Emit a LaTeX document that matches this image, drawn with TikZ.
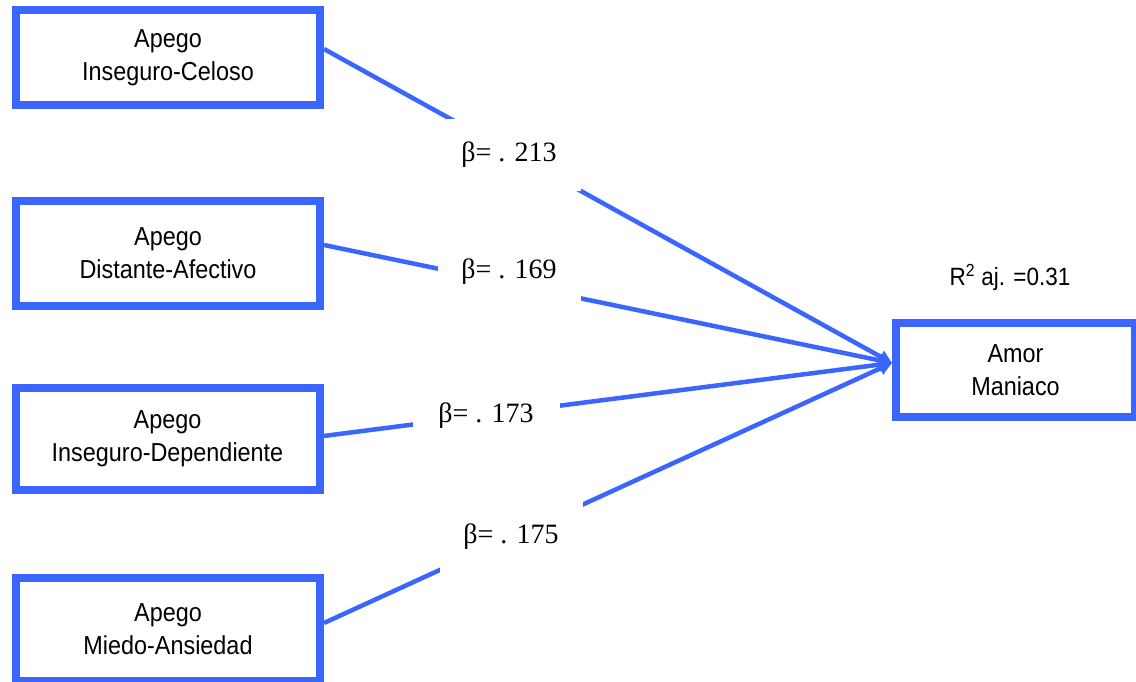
\documentclass[tikz,border=0pt]{standalone}
\usepackage{fontspec}
\setmainfont[FakeStretch=0.9]{Liberation Sans}
\newfontfamily\betafont{Liberation Serif}
\usetikzlibrary{arrows.meta}
\definecolor{pathblue}{RGB}{58,102,255}
\tikzset{
  varbox/.style={draw=pathblue, line width=8pt, fill=white, inner sep=0pt,
    minimum width=304pt, align=center, font=\fontsize{26}{33}\selectfont},
  conn/.style={draw=pathblue, line width=4.5pt, -{Triangle[length=13pt,width=13pt]}},
  betalabel/.style={fill=white, inner sep=0pt, minimum width=143pt, minimum height=72pt,
    font=\betafont\fontsize{28}{32}\selectfont},
}
\begin{document}
\begin{tikzpicture}[x=1pt,y=-1pt]
\useasboundingbox (0,0) rectangle (1136,681);
\node[varbox, minimum height=95pt] (b1) at (168,57.5) {Apego\\Inseguro-Celoso};
\node[varbox, minimum height=105pt] (b2) at (168,253.5) {Apego\\Distante-Afectivo};
\node[varbox, minimum height=102pt] (b3) at (167.5,439) {Apego\\Inseguro-Dependiente};
\node[varbox, minimum height=103pt] (b4) at (168,629.5) {Apego\\Miedo-Ansiedad};
\node[varbox, minimum width=239pt, minimum height=94pt] (am) at (1015.5,370) {Amor\\Maniaco};
\node[font=\fontsize{25}{28}\selectfont, inner sep=0pt] (r2) at (1010,277) {R\textsuperscript{2} aj. =0.31};
\draw[conn] ([yshift=8.5pt]b1.east) -- ([yshift=7pt]am.west);
\draw[conn] ([yshift=8.5pt]b2.east) -- ([yshift=7pt]am.west);
\draw[conn] ([yshift=3pt]b3.east) -- ([yshift=7pt]am.west);
\draw[conn] ([yshift=6.5pt]b4.east) -- ([yshift=7pt]am.west);
\node[betalabel] (l1) at (509,155) {β= . 213};
\node[betalabel] (l2) at (509,272) {β= . 169};
\node[betalabel, minimum width=147pt] (l3) at (486,416) {β= . 173};
\node[betalabel] (l4) at (511,537) {β= . 175};
\end{tikzpicture}
\end{document}
